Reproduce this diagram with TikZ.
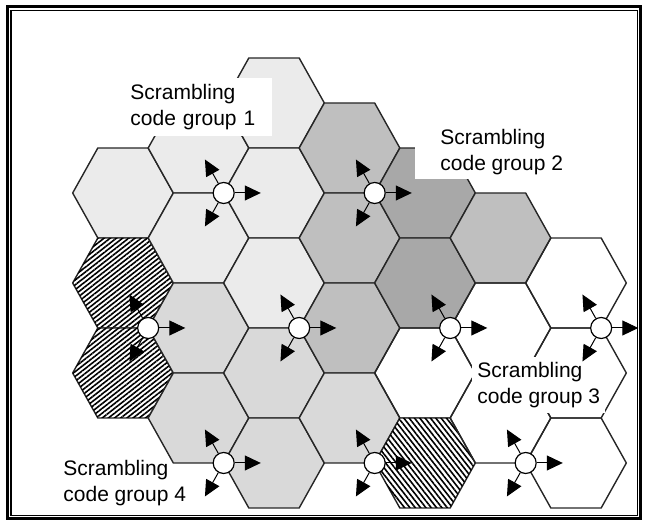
\documentclass[tikz,border=0pt]{standalone}
\usepackage{fontspec}
\setmainfont{Liberation Sans}
\usetikzlibrary{arrows.meta,patterns.meta}

% one cell of the network: #1 centre, #2 style
\newcommand{\hexcell}[2]{%
  \draw[#2] (#1) +(-50.33,0) -- +(-25.17,-45) -- +(25.17,-45)
    -- +(50.33,0) -- +(25.17,45) -- +(-25.17,45) -- cycle;}

\begin{document}
\begin{tikzpicture}[x=0.5pt,y=-0.5pt,
    cell/.style={draw=black!85,line width=0.7pt},
    grpa/.style={cell,fill=black!8},
    grpb/.style={cell,fill=black!25},
    grpc/.style={cell,fill=black!34},
    grpd/.style={cell,fill=black!15},
    hatchl/.style={cell,fill=white,postaction={pattern={Lines[angle=38,distance=1.9pt,line width=0.8pt]}}},
    hatchr/.style={cell,fill=white,postaction={pattern={Lines[angle=-52,distance=2.1pt,line width=0.8pt]}}},
    site/.style={circle,draw,fill=white,line width=0.6pt,minimum size=10.5pt,inner sep=0pt},
    beam/.style={-{Triangle[length=8pt,width=7.5pt]},line width=0.5pt,shorten >=6.6pt},
    lbl/.style={font=\fontsize{10.5}{13}\selectfont,align=left,anchor=north west,inner sep=0pt}]
    \useasboundingbox (0,0) rectangle (645,522);
    % frame
    \draw[line width=1.5pt] (7.5,6.5) rectangle (641,519);
    \draw[line width=0.6pt] (11,10.5) rectangle (637.5,515.5);
    % cell centres
    \foreach \c in {0,...,7}
      \foreach \m in {0,...,9}
        \coordinate (h\c\m) at ({123+75.5*\c},{103+45*\m});
    % cells
    \foreach \c/\m/\s in {0/2/grpa,0/4/hatchl,0/6/hatchl,
        1/1/grpa,1/3/grpa,1/5/grpd,1/7/grpd,
        2/0/grpa,2/2/grpa,2/4/grpa,2/6/grpd,2/8/grpd,
        3/1/grpb,3/3/grpb,3/5/grpb,3/7/grpd,
        4/2/grpc,4/4/grpc,4/6/cell,4/8/hatchr,
        5/3/grpb,5/5/cell,5/7/cell,
        6/4/cell,6/6/cell,6/8/cell}
      \hexcell{h\c\m}{\s};
    % labels
    \node[lbl,fill=white,inner xsep=2pt,inner ysep=3pt,text width=69pt] (grp1) at (126,78) {Scrambling\\code group 1};
    \node[lbl,fill=white,inner xsep=12.5pt,inner ysep=2pt] (grp2) at (415,125) {Scrambling\\code group 2};
    \node[lbl,fill=white,inner xsep=2.5pt,inner ysep=2.5pt] (grp3) at (472,357) {Scrambling\\code group 3};
    \node[lbl] (grp4) at (63,460) {Scrambling\\code group 4};
    % sites with three sectors each
    \foreach \t/\c/\m in {1/2/2,2/4/2,3/1/5,4/3/5,5/5/5,6/7/5,7/2/8,8/4/8,9/6/8} {
      \pgfmathtruncatemacro{\cb}{\c-1}
      \pgfmathtruncatemacro{\ma}{\m-1}
      \pgfmathtruncatemacro{\mb}{\m+1}
      \node[site] (s\t) at ({123+75.5*\c-50.33},{103+45*\m}) {};
      \draw[beam] (s\t) -- (h\c\m);
      \draw[beam] (s\t) -- (h\cb\ma);
      \draw[beam] (s\t) -- (h\cb\mb);
    }
\end{tikzpicture}
\end{document}
